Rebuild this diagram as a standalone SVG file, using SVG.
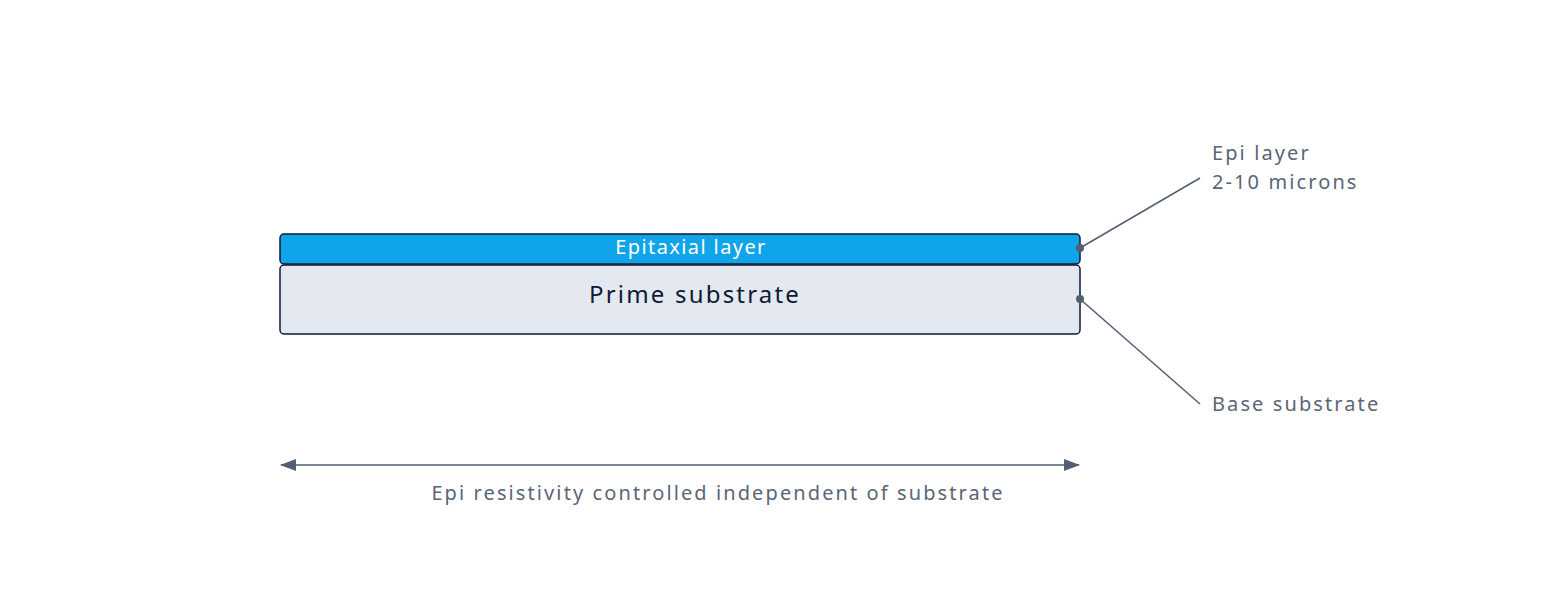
<svg xmlns="http://www.w3.org/2000/svg" width="1560" height="600" viewBox="0 0 1560 600">
<style>
.lbl{font-family:"Noto Sans","Open Sans",sans-serif;font-size:20px;letter-spacing:2.1px;fill:#5a6577}
.ln{stroke:#525f72;stroke-width:1.5;fill:none}
.box{stroke:#0f1a33;stroke-width:1.5}
</style>
<defs>
<marker id="ah" viewBox="0 0 16 12" refX="15" refY="6" markerWidth="16" markerHeight="12" markerUnits="userSpaceOnUse" orient="auto-start-reverse">
<path d="M0,0 L16,6 L0,12 Z" fill="#525f72"/>
</marker>
</defs>
<rect width="1560" height="600" fill="#ffffff"/>
<g id="epi">
<rect class="box" x="280" y="234" width="800" height="30" rx="4" fill="#10a5e8"/>
<text x="691" y="254" text-anchor="middle" font-family="Noto Sans, Open Sans, sans-serif" font-size="20" letter-spacing="1.4" fill="#ffffff">Epitaxial layer</text>
</g>
<g id="prime">
<rect class="box" x="280" y="265" width="800" height="69" rx="4" fill="#e4e8f0"/>
<text x="695" y="303" text-anchor="middle" font-family="Noto Sans, Open Sans, sans-serif" font-size="24" letter-spacing="2.2" fill="#0f1a33">Prime substrate</text>
</g>
<g id="connectors">
<line class="ln" x1="1080" y1="248" x2="1200" y2="178"/>
<line class="ln" x1="1080" y1="299" x2="1200" y2="404"/>
<circle cx="1080" cy="248" r="4" fill="#525f72"/>
<circle cx="1080" cy="299" r="4" fill="#525f72"/>
<line class="ln" x1="281" y1="465" x2="1079" y2="465" marker-start="url(#ah)" marker-end="url(#ah)"/>
</g>
<g id="labels">
<text class="lbl" x="1212" y="160">Epi layer</text>
<text class="lbl" x="1212" y="189">2-10 microns</text>
<text class="lbl" x="1212" y="411">Base substrate</text>
<text class="lbl" x="718" y="500" text-anchor="middle">Epi resistivity controlled independent of substrate</text>
</g>
</svg>
